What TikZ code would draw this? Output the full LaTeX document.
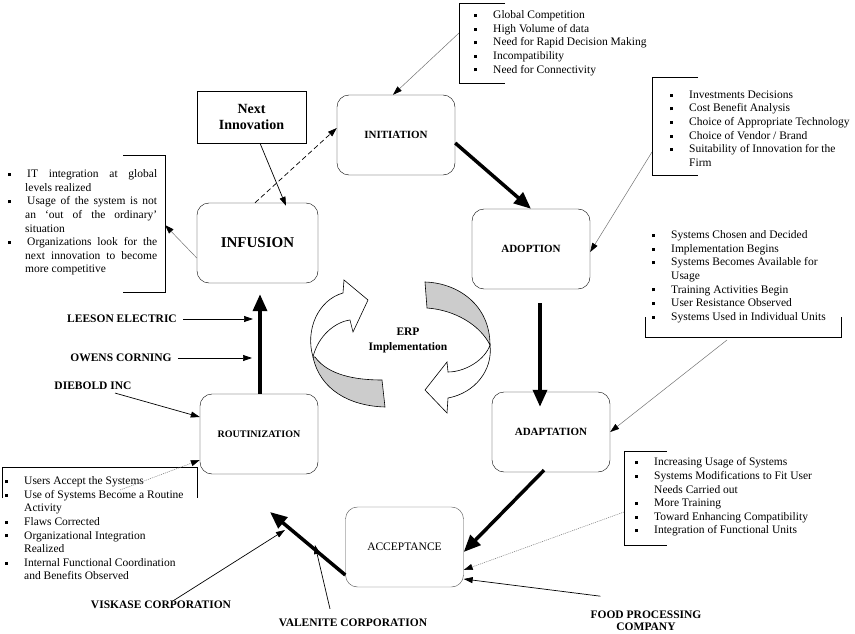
\documentclass[tikz,border=0pt]{standalone}
\usepackage{fontspec}
\setmainfont{Liberation Serif}
\usetikzlibrary{arrows.meta}
\newcommand{\listfont}{\fontsize{11.5}{13.6}\selectfont}
\newcommand{\sq}{\makebox[19pt][l]{\rule[1.6pt]{3pt}{3pt}}}
\newcommand{\ind}{\hspace*{19pt}}

\begin{document}
\begin{tikzpicture}[x=1pt,y=1pt,
  stage/.style={draw,rounded corners=12pt,minimum width=118pt,minimum height=80pt,inner sep=0pt,font=\fontsize{11}{13}\selectfont\bfseries},
  firm/.style={inner sep=0pt,align=center,font=\fontsize{11.5}{13}\selectfont\bfseries},
  items/.style={anchor=north west,inner sep=0pt,align=left,font=\listfont},
  bold arrow/.style={line width=3.5pt,-{Triangle[length=17pt,width=14pt]}},
  thin arrow/.style={line width=0.7pt,-{Triangle[length=9pt,width=6pt]}},
  note arrow/.style={draw=black!55,line width=0.5pt,-{Triangle[length=9pt,width=6pt,color=black]}},
  bracket/.style={line width=0.7pt}]
\useasboundingbox (0,0) rectangle (855,-634);
\tikzstyle{every node}+=[inner sep=0pt]
% stages
\node[stage] (init) at (396,-135) {INITIATION};
\node[stage] (adopt) at (531,-249) {ADOPTION};
\node[stage] (adapt) at (551,-432) {ADAPTATION};
\node[stage,draw=black!70,font=\fontsize{11.5}{13}\selectfont] (accept) at (404.5,-547) {ACCEPTANCE};
\node[stage,font=\fontsize{10}{12}\selectfont\bfseries] (routin) at (259,-434) {ROUTINIZATION};
\node[stage,minimum width=121pt,font=\fontsize{15}{17}\selectfont\bfseries] (infu) at (257.5,-243) {INFUSION};
\node[draw,minimum width=109pt,minimum height=52pt,align=center,font=\fontsize{14}{16}\selectfont\bfseries] (next) at (251.5,-117) {Next\\Innovation};
\node[firm,font=\fontsize{11.5}{15}\selectfont\bfseries] (erp) at (408,-340) {ERP\\Implementation};
% cycle
\draw[bold arrow] ([yshift=-8pt]init.east) -- (adopt.north);
\draw[bold arrow,shorten >=-15pt] ([xshift=9pt,yshift=-14pt]adopt.south) -- ([xshift=-11pt]adapt.north);
\draw[bold arrow] ([xshift=-7pt,yshift=2pt]adapt.south) -- ([yshift=-5pt]accept.east);
\coordinate (routend) at (270,-512);
\draw[bold arrow] ([yshift=-28pt]accept.west) -- (routend);
\draw[bold arrow] ([xshift=1pt]routin.north) -- ([xshift=2.5pt,yshift=-11pt]infu.south);
\draw[thin arrow,dash pattern=on 5pt off 3pt] ([xshift=-2.5pt]infu.north) -- ([yshift=7pt]init.west);
\draw[thin arrow] ([xshift=8.5pt]next.south) -- ([xshift=28.5pt,yshift=-3pt]infu.north);
% ERP arrows
\draw[fill=gray!40,line width=0.6pt] (315,-357) .. controls (328,-375) and (355,-380) .. (382,-380) -- (385,-407) .. controls (350,-406) and (320,-390) .. (313,-357) -- cycle;
\draw[fill=white,line width=0.6pt] (313,-357) .. controls (305,-330) and (318,-300) .. (343,-293) -- (344,-280) -- (368,-300) -- (353,-332) -- (350,-320) .. controls (335,-322) and (318,-336) .. (313,-357) -- cycle;
\draw[fill=gray!40,line width=0.6pt] (425,-282) .. controls (458,-283) and (490,-305) .. (490,-345) .. controls (480,-325) and (455,-310) .. (427,-308) -- cycle;
\draw[fill=white,line width=0.6pt] (490,-345) .. controls (493,-370) and (475,-393) .. (448,-398) -- (447,-413) -- (425,-390) -- (447,-362) -- (448,-372) .. controls (465,-372) and (485,-360) .. (490,-345) -- cycle;
% lists
\node[items] (initlist) at (474,-10.5) {\sq Global Competition\\ \sq High Volume of data\\ \sq Need for Rapid Decision Making\\ \sq Incompatibility\\ \sq Need for Connectivity};
\draw[bracket] (505,-3) -- (459,-3) -- (459,-83) -- (505,-83);
\coordinate (initref) at (459,-33);
\draw[note arrow] (initref) -- ([xshift=-3pt]init.north);
\node[items] (adoptlist) at (670,-90.5) {\sq Investments Decisions\\ \sq Cost Benefit Analysis\\ \sq Choice of Appropriate Technology\\ \sq Choice of Vendor / Brand\\ \sq Suitability of Innovation for the\\ \ind Firm};
\draw[bracket] (698,-77) -- (652,-77) -- (652,-175) -- (698,-175);
\coordinate (adoptref) at (652,-152);
\draw[note arrow] (adoptref) -- ([yshift=-3pt]adopt.east);
\node[items] (adaptlist) at (652,-230.5) {\sq Systems Chosen and Decided\\ \sq Implementation Begins\\ \sq Systems Becomes Available for\\ \ind Usage\\ \sq Training Activities Begin\\ \sq User Resistance Observed\\ \sq Systems Used in Individual Units};
\draw[bracket] (645,-317) -- (645,-337) -- (841,-337) -- (841,-317);
\coordinate (adaptref) at (727,-340);
\draw[note arrow] (adaptref) -- (adapt.east);
\node[items] (acceptlist) at (635,-457.5) {\sq Increasing Usage of Systems\\ \sq Systems Modifications to Fit User\\ \ind Needs Carried out\\ \sq More Training\\ \sq Toward Enhancing Compatibility\\ \sq Integration of Functional Units};
\draw[bracket] (667,-451) -- (624,-451) -- (624,-545) -- (667,-545);
\coordinate (acceptref) at (624,-512);
\draw[note arrow,dash pattern=on 1pt off 1pt] (acceptref) -- ([yshift=-23pt]accept.east);
\node[items] (routlist) at (5,-476.5) {\sq Users Accept the Systems\\ \sq Use of Systems Become a Routine\\ \ind Activity\\ \sq Flaws Corrected\\ \sq Organizational Integration\\ \ind Realized\\ \sq Internal Functional Coordination\\ \ind and Benefits Observed};
\draw[bracket] (2,-498) -- (2,-467) -- (197,-467) -- (197,-498);
\coordinate (routref) at (120,-490);
\draw[note arrow,dash pattern=on 1pt off 1pt] (routref) -- ([yshift=-26pt]routin.west);
\node[anchor=north west,font=\listfont] (infulist) at (8,-169.5) {\parbox[t]{149pt}{%
\sq IT integration at global\linebreak\hspace*{17pt}levels realized\par
\sq Usage of the system is not\linebreak\hspace*{17pt}an `out of the ordinary'\linebreak\hspace*{17pt}situation\par
\sq Organizations look for the\linebreak\hspace*{17pt}next innovation to become\linebreak\hspace*{17pt}more competitive\par}};
\draw[bracket] (123,-155) -- (165,-155) -- (165,-292) -- (123,-292);
\coordinate (inforef) at (165,-225);
\draw[note arrow] ([yshift=-15pt]infu.west) -- (inforef);
% adopters
\node[firm] (leeson) at (122,-319) {LEESON ELECTRIC};
\node[firm] (owens) at (121,-358) {OWENS CORNING};
\node[firm] (diebold) at (93,-386) {DIEBOLD INC};
\node[firm] (viskase) at (161,-605) {VISKASE CORPORATION};
\node[firm] (valenite) at (353,-623) {VALENITE CORPORATION};
\node[firm,font=\fontsize{11.5}{12.5}\selectfont\bfseries] (food) at (646,-620.5) {FOOD PROCESSING\\COMPANY};
\coordinate (leesonend) at (253,-319);
\coordinate (owensend) at (252,-358);
\coordinate (viskaseend) at (285,-530);
\coordinate (valeniteend) at (315,-545);
\draw[thin arrow] ([xshift=6pt]leeson.east) -- (leesonend);
\draw[thin arrow] ([xshift=6pt]owens.east) -- (owensend);
\draw[thin arrow] ([xshift=22pt,yshift=-3pt]diebold.south) -- ([yshift=17pt]routin.west);
\draw[thin arrow] ([xshift=12pt]viskase.north) -- (viskaseend);
\draw[thin arrow] ([xshift=-23pt,yshift=10pt]valenite.north) -- (valeniteend);
\draw[thin arrow] ([xshift=10pt,yshift=14pt]food.north west) -- ([yshift=-32pt]accept.east);
\end{tikzpicture}
\end{document}
